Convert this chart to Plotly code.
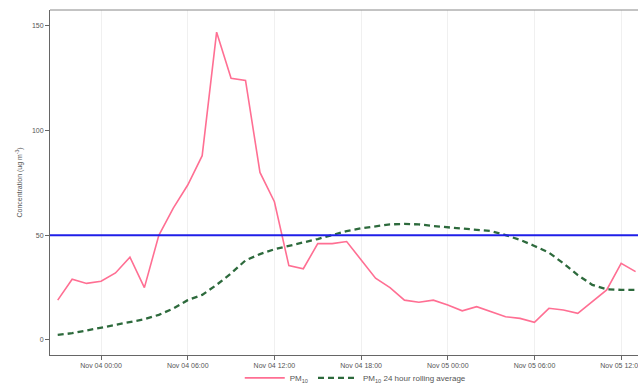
import plotly.graph_objects as go
import pandas as pd

times = pd.date_range("2015-11-03 21:00", "2015-11-05 13:00", freq="h")

pm10 = [19, 29, 27, 28, 32, 39.5, 25, 50, 63, 74, 88, 147, 125, 124, 80, 66,
        35.5, 34, 46, 46, 47, 38, 29.5, 25, 19, 18, 19,
        16.7, 13.9, 15.9, 13.5, 11.1, 10.3, 8.4, 15.1, 14.3, 12.7, 18.3, 23.9, 36.6, 32.6]

rolling = [2.4, 3.2, 4.5, 5.9, 7.2, 8.4, 9.9, 12, 15, 19, 21.5, 26.3, 31.8, 38, 41,
           43.3, 44.9, 46.5, 48.2, 50.1, 52, 53.3, 54.4, 55.2, 55.4, 55.2, 54.4,
           53.8, 53, 52.4, 52, 50.1, 47.8, 44.9, 41.7, 36.6, 31, 26.3, 24.2, 23.9, 23.9]

limit = 50
tick_vals = pd.date_range("2015-11-04 00:00", "2015-11-05 12:00", freq="6h")
tick_text = [t.strftime("%b %d %H:%M") for t in tick_vals]
y_ticks = [0, 50, 100, 150]

fig = go.Figure()
fig.add_trace(go.Scatter(x=times, y=pm10, mode="lines", name="PM<sub>10</sub>",
                         line=dict(color="#ff6f93", width=1.6)))
fig.add_trace(go.Scatter(x=times, y=rolling, mode="lines",
                         name="PM<sub>10</sub> 24 hour rolling average",
                         line=dict(color="#2d6a3c", width=2.3, dash="6px,4px")))
fig.add_hline(y=limit, line=dict(color="#1f1fe8", width=2))

font = dict(family="Liberation Sans, Arial, sans-serif", size=7, color="#555555")
fig.update_layout(
    width=638, height=386,
    margin=dict(l=50, r=0, t=10, b=31),
    paper_bgcolor="white", plot_bgcolor="white",
    font=font,
    showlegend=True,
    legend=dict(orientation="h", x=0.52, xanchor="center",
                yref="container", y=0.021, yanchor="middle",
                font=dict(family="Liberation Sans, Arial, sans-serif", size=8, color="#555555"),
                itemwidth=40, bgcolor="rgba(0,0,0,0)"),
)
fig.update_xaxes(
    range=[pd.Timestamp("2015-11-03 20:28"), pd.Timestamp("2015-11-05 13:10")],
    tickvals=tick_vals, ticktext=tick_text,
    ticks="outside", ticklen=4, tickcolor="#666666",
    showline=True, linecolor="#666666", linewidth=1, mirror=False,
    showgrid=True, gridcolor="#f0f0f0", gridwidth=1, zeroline=False,
    tickfont=font, automargin=False, ticklabeloverflow="allow",
)
fig.update_yaxes(
    range=[-7.2, 157.6],
    tickvals=y_ticks, ticks="outside", ticklen=4, tickcolor="#666666",
    showline=True, linecolor="#666666", linewidth=1,
    showgrid=False, zeroline=False, automargin=False,
    title=dict(text="Concentration (ug m<sup>-3</sup>)", font=font, standoff=8),
    tickfont=font,
)
# top border
fig.add_shape(type="line", xref="paper", yref="paper", x0=0, x1=1, y0=1, y1=1,
              line=dict(color="#888888", width=1))

post = (
    "document.documentElement.style.overflow='hidden';"
    "document.body.style.margin='0';"
    "document.body.style.overflow='hidden';"
)
fig.write_html("out.html", post_script=post, config={"displayModeBar": False})
